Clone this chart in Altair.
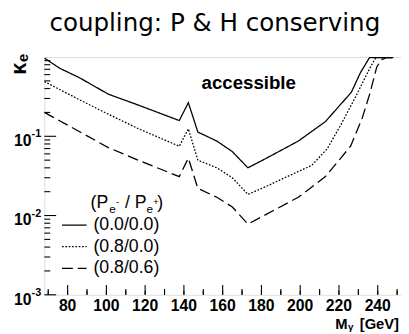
import altair as alt
import pandas as pd

# ---- data ----
mass_solid = [68, 76, 86, 101, 116.4, 137.6, 142.3, 147.2, 157, 165, 173, 182, 199, 213, 226.4, 231, 235.7, 248]
kappa_solid = [0.97, 0.72, 0.55, 0.34, 0.248, 0.158, 0.265, 0.113, 0.087, 0.064, 0.040, 0.052, 0.087, 0.153, 0.36, 0.63, 0.98, 0.98]

mass_dotted = [68, 86, 101, 116.4, 137.6, 142.3, 147.2, 157, 165, 173, 182, 192, 206, 214, 221, 229, 236, 239, 248]
kappa_dotted = [0.49, 0.29, 0.19, 0.125, 0.075, 0.124, 0.05, 0.040, 0.030, 0.0185, 0.023, 0.030, 0.043, 0.07, 0.14, 0.33, 0.73, 0.98, 0.98]

mass_dashed = [68, 86, 101, 116.4, 137.6, 142.3, 147.2, 157, 165, 173, 182, 199, 213, 226, 232, 236, 239.5, 242, 244.5, 248]
kappa_dashed = [0.20, 0.115, 0.072, 0.05, 0.031, 0.053, 0.022, 0.017, 0.0128, 0.0078, 0.0102, 0.017, 0.031, 0.075, 0.17, 0.35, 0.75, 0.93, 0.98, 0.98]

series_labels = ["(0.0/0.0)", "(0.8/0.0)", "(0.8/0.6)"]
x_tick_values = [80, 100, 120, 140, 160, 180, 200, 220, 240]
y_tick_values = [0.001, 0.01, 0.1]
y_tick_exps = ["-3", "-2", "-1"]

X_DOM = [68, 252]
Y_DOM = [0.001, 1]
W, H = 363, 242

rows = []
for lab, ms, ks in zip(series_labels, [mass_solid, mass_dotted, mass_dashed],
                       [kappa_solid, kappa_dotted, kappa_dashed]):
    for m, k in zip(ms, ks):
        rows.append({"m": m, "k": k, "series": lab})
df = pd.DataFrame(rows)

dashes = [[1, 0], [1.7, 1.7], [11, 5]]

xs = alt.Scale(domain=X_DOM, nice=False, zero=False)
ys = alt.Scale(type="log", domain=Y_DOM, nice=False)

base_axis_x = alt.Axis(labels=False, ticks=False, title=None, grid=False,
                       domainColor="black", domainWidth=1.6)
base_axis_y = alt.Axis(labels=False, ticks=False, title=None, grid=False,
                       domainColor="black", domainWidth=1.8)

lines = alt.Chart(df).mark_line(clip=True, color="black", strokeWidth=1.3).encode(
    x=alt.X("m:Q", scale=xs, axis=base_axis_x),
    y=alt.Y("k:Q", scale=ys, axis=base_axis_y),
    strokeDash=alt.StrokeDash("series:N", scale=alt.Scale(domain=series_labels, range=dashes), legend=None),
    detail="series:N",
)

# inward ticks
y_major = pd.DataFrame({"k": [0.001, 0.01, 0.1]})
y_minor = pd.DataFrame({"k": [d * b for b in [0.001, 0.01, 0.1] for d in range(2, 10)]})
x_major = pd.DataFrame({"m": x_tick_values})
x_mid = pd.DataFrame({"m": [70, 90, 110, 130, 150, 170, 190, 210, 230, 250]})
x_minor = pd.DataFrame({"m": [v + 5 for v in range(65, 250, 10) if 68 <= v + 5 <= 252]})

def yticks(d, ln):
    return alt.Chart(d).mark_rule(color="black", strokeWidth=1.1).encode(
        y=alt.Y("k:Q", scale=ys, axis=None), x=alt.value(0), x2=alt.value(ln))

def xticks(d, ln):
    return alt.Chart(d).mark_rule(color="black", strokeWidth=1.1).encode(
        x=alt.X("m:Q", scale=xs, axis=None), y=alt.value(H), y2=alt.value(H - ln))

ticks = [yticks(y_major, 12), yticks(y_minor, 6), xticks(x_major, 10), xticks(x_mid, 6), xticks(x_minor, 4)]

# tick labels
xlab_df = pd.DataFrame({"m": x_tick_values, "t": [str(v) for v in x_tick_values]})
xlabels = alt.Chart(xlab_df).mark_text(font="Liberation Sans", fontWeight="bold", fontSize=16,
                                        baseline="middle", align="center", color="black").encode(
    x=alt.X("m:Q", scale=xs, axis=None), y=alt.value(H + 12), text="t:N")

ylab_df = pd.DataFrame({"k": y_tick_values, "t": ["10"] * 3, "e": y_tick_exps})
ylab10 = alt.Chart(ylab_df).mark_text(font="Liberation Sans", fontWeight="bold", fontSize=16,
                                       baseline="middle", align="right", dy=5, color="black").encode(
    y=alt.Y("k:Q", scale=ys, axis=None), x=alt.value(-13), text="t:N")
ylabexp = alt.Chart(ylab_df).mark_text(font="Liberation Sans", fontWeight="bold", fontSize=11,
                                        baseline="middle", align="left", dy=-2, color="black").encode(
    y=alt.Y("k:Q", scale=ys, axis=None), x=alt.value(-13), text="e:N")

one = pd.DataFrame({"a": [0]})

def txt(s, x, y, size, weight="normal", align="left", font="Liberation Sans", angle=0, baseline="middle"):
    kw = dict(font=font, fontSize=size, fontWeight=weight, align=align, baseline=baseline, color="black")
    if angle:
        kw["angle"] = angle
    return alt.Chart(one).mark_text(**kw).encode(x=alt.value(x), y=alt.value(y), text=alt.value(s))

texts = [
    txt("coupling: P & H conserving", 173.5, -26, 25, font="DejaVu Sans", align="center", baseline="alphabetic"),
    txt("accessible", 208, 27, 19, weight="bold", align="center"),
    # y title kappa_e
    txt("κ", -26, 12, 22, weight="bold", align="center", angle=270),
    txt("e", -22, 1, 15, weight="bold", align="center", angle=270),
    # x title
    txt("[GeV]", 361, 272, 15, weight="bold", align="right"),
    txt("M", 296, 272, 15, weight="bold"),
    txt("γ", 309, 275, 10, weight="bold"),
    # legend header (P_e- / P_e+)
    txt("(P", 47, 149, 18),
    txt("e", 66, 155, 12),
    txt("-", 73, 148, 10),
    txt("/ P", 82, 149, 18),
    txt("e", 104, 155, 12),
    txt("+", 110.5, 148, 10),
    txt(")", 115, 149, 18),
]

leg_y = [171, 193, 215]
legend = []
for lab, dsh, yy in zip(series_labels, dashes, leg_y):
    legend.append(alt.Chart(one).mark_rule(color="black", strokeWidth=1.3, strokeDash=dsh).encode(
        x=alt.value(18), x2=alt.value(43), y=alt.value(yy)))
    legend.append(txt(lab, 50, yy, 18))

chart = alt.layer(lines, *ticks, xlabels, ylab10, ylabexp, *texts, *legend).properties(
    width=W, height=H,
    autosize=alt.AutoSizeParams(type="none"),
    padding={"left": 37, "top": 47, "right": 0, "bottom": 37},
).configure_view(stroke="#4a1e1e", strokeWidth=1.3).configure(background="white")

chart.save("out.html", embed_options={"renderer": "svg", "actions": False})
